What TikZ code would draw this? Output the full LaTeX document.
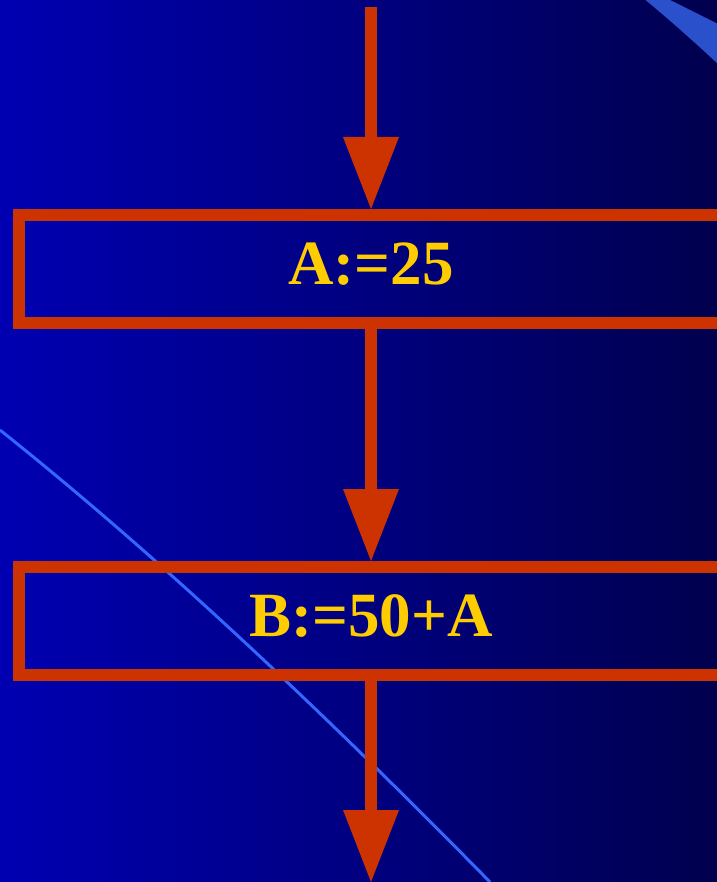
\documentclass[tikz,border=0pt]{standalone}
\usepackage{fontspec}
\setmainfont{Liberation Serif}
\usetikzlibrary{arrows.meta}
\definecolor{bgleft}{RGB}{0,0,178}
\definecolor{bgright}{RGB}{0,0,78}
\definecolor{flowred}{RGB}{204,51,0}
\definecolor{gold}{RGB}{255,204,0}
\definecolor{lineblue}{RGB}{51,102,255}
\definecolor{wedgeblue}{RGB}{42,80,204}
\tikzset{
  stepbox/.style={draw=flowred, line width=12pt, minimum width=704pt, minimum height=108pt,
    inner sep=0pt, outer sep=6pt, text=gold, text height=42pt, text depth=12pt,
    font=\fontsize{63}{63}\selectfont\bfseries},
  flowarrow/.style={draw=flowred, line width=12pt,
    -{Triangle[width=56pt,length=72pt,line width=0pt,fill=flowred]}}
}
\begin{document}
\begin{tikzpicture}[x=1pt,y=-1pt]
\useasboundingbox (0,0) rectangle (716,882);
\begin{scope}
\clip (-2,-2) rectangle (718,884);
\shade[left color=bgleft, right color=bgright] (-2,-2) rectangle (718,884);
\fill[wedgeblue] (643,-2) -- (666,-2) -- (718,24) -- (718,64) .. controls (690,38) and (665,16) .. (643,-2) -- cycle;
\draw[lineblue, line width=3pt] (0,430) .. controls (163,560) and (327,716) .. (490,882);
\coordinate (start) at (371,7);
\coordinate (end) at (371,882);
\node[stepbox] (a) at (371,269) {A:=25};
\node[stepbox] (b) at (371,621) {B:=50+A};
\draw[flowarrow] (start) -- (a.north);
\draw[flowarrow] (a.south) -- (b.north);
\draw[flowarrow] (b.south) -- (end);
\end{scope}
\end{tikzpicture}
\end{document}
